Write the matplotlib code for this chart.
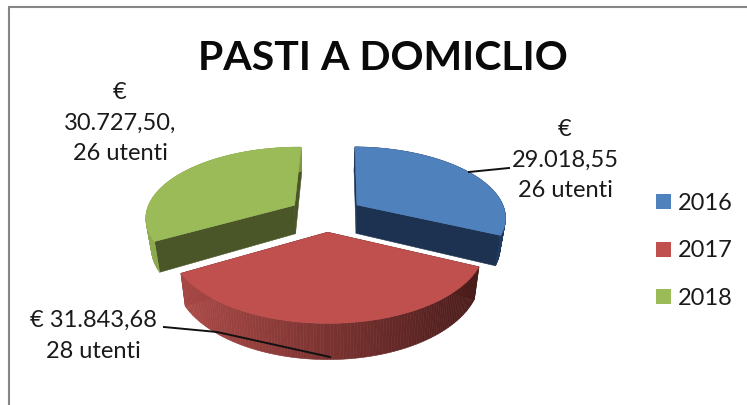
import numpy as np
import matplotlib
matplotlib.use("Agg")
import matplotlib.pyplot as plt
from matplotlib.collections import PolyCollection
from matplotlib.colors import to_rgb
from matplotlib.patches import Patch, Polygon

years = ["2016", "2017", "2018"]
amounts = [29018.55, 31843.68, 30727.50]
slice_labels = ["€\n29.018,55\n26 utenti", "€ 31.843,68\n28 utenti", "€\n30.727,50,\n26 utenti"]
top_colors = ["#4F81BD", "#C0504D", "#9BBB59"]
cut_colors = ["#1C3250", "#4A1C1B", "#4A5628"]
rim_colors = [("#1C3250", "#20395C"), ("#AB4A47", "#4A1C1B"), ("#8EAA50", "#7F9A46")]
title = "PASTI A DOMICLIO"

FONT = "Lato"
CX, CY = 326, 214
RX, RY = 149, 70
PERSP = 0.16
EXPLODE = 0.25
DEPTH = 29
BOTTOM_SHRINK = 0.97
ROTATION = 1.0


def project(X, Y, bottom=False):
    """Map disc coordinates (Y pointing away from the viewer) to canvas pixels."""
    X, Y = np.asarray(X, float), np.asarray(Y, float)
    w = 1 / (1 + PERSP * Y)
    x = RX * X * w
    y = CY - RY * Y * w
    if bottom:
        return np.column_stack([CX + x * BOTTOM_SHRINK, y + DEPTH * w])
    return np.column_stack([CX + x, y])


fig = plt.figure(figsize=(7.47, 4.05), dpi=100)
ax = fig.add_axes([0, 0, 1, 1])
ax.set_xlim(0, 747)
ax.set_ylim(405, 0)
ax.axis("off")

# chart frame: only the top and left edges fall on the canvas
ax.plot([9, 9, 747], [405, 7, 7], color="#868686", lw=1.5, solid_joinstyle="miter")

edges = np.radians(np.concatenate([[0], np.cumsum(amounts)]) / np.sum(amounts) * 360 + ROTATION)


def draw_slice(i, zorder):
    a0, a1 = edges[i], edges[i + 1]
    mid = (a0 + a1) / 2
    ox, oy = EXPLODE * np.sin(mid), EXPLODE * np.cos(mid)
    t = np.linspace(a0, a1, 120)
    X, Y = ox + np.sin(t), oy + np.cos(t)
    top = project(X, Y)
    bot = project(X, Y, bottom=True)

    # radial cut faces
    apex_t = project(ox, oy).ravel()
    apex_b = project(ox, oy, bottom=True).ravel()
    for idx in (0, -1):
        ax.add_patch(Polygon([apex_t, top[idx], bot[idx], apex_b], closed=True,
                             fc=cut_colors[i], ec=cut_colors[i], lw=0.4, zorder=zorder))

    # outer rim, shaded along the arc
    c0, c1 = map(np.array, map(to_rgb, rim_colors[i]))
    frac = (top[:-1, 0] - top[:, 0].min()) / (np.ptp(top[:, 0]) or 1)
    quads = [[top[k], top[k + 1], bot[k + 1], bot[k]] for k in range(len(t) - 1)]
    colors = [c0 + (c1 - c0) * f for f in frac]
    ax.add_collection(PolyCollection(quads, facecolors=colors, edgecolors=colors,
                                     linewidths=0.4, zorder=zorder))

    ax.add_patch(Polygon(np.vstack([apex_t, top]), closed=True, fc=top_colors[i],
                         ec=top_colors[i], lw=0.4, zorder=zorder + 0.5))


draw_slice(2, 2)
draw_slice(0, 2)
draw_slice(1, 3)

# leader lines
ax.plot([469, 509], [172, 168], color="#111111", lw=1.4, zorder=5)
ax.plot([164, 217, 330], [327, 332, 357], color="#111111", lw=1.4, zorder=5)

ax.text(383, 58, title, fontsize=29.5, fontweight="bold", family=FONT,
        ha="center", va="center", color="#0A0A0A")

label_style = dict(fontsize=17, family=FONT, ha="center", va="center",
                   color="#1A1A1A", linespacing=1.58, zorder=6)
ax.text(565, 160, slice_labels[0], **label_style)
ax.text(93, 336, slice_labels[1], **label_style)
ax.text(120, 123, slice_labels[2], **label_style)

handles = [Patch(fc=c, ec="none") for c in top_colors]
ax.legend(handles, years, loc="upper left", bbox_to_anchor=(656, 193),
          bbox_transform=ax.transData, frameon=False, borderpad=0, borderaxespad=0,
          handlelength=0.62, handleheight=0.6, handletextpad=0.3, labelspacing=1.12,
          prop=dict(family=FONT, size=17), labelcolor="#1A1A1A")

fig.savefig("out.png", dpi=100)
